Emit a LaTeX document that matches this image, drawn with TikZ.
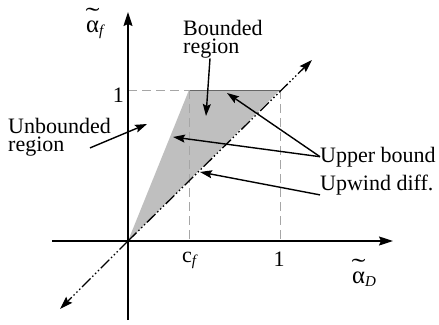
\documentclass[tikz,border=0pt]{standalone}
\usepackage{fontspec}
\setmainfont{Liberation Serif}
\usetikzlibrary{arrows.meta}
\newcommand{\talpha}{\ooalign{\scalebox{1.12}{α}\cr\hidewidth\raisebox{0.36em}{\scalebox{1.9}[1.1]{\char"02DC}}\hidewidth\cr}}
\newcommand{\subit}[1]{\raisebox{-3pt}{\fontsize{15}{15}\selectfont\itshape #1}}
\begin{document}
\begin{tikzpicture}[x=1pt,y=-1pt,
  lbl/.style={font=\fontsize{22}{18}\selectfont, inner sep=0pt},
  arr/.style={line width=1.4pt, -{Stealth[length=12pt,width=8pt,inset=2pt]}},
  axis/.style={line width=1.3pt, -{Stealth[length=14pt,width=9pt,inset=2pt]}},
  guide/.style={gray!70, line width=0.8pt, dash pattern=on 9pt off 5pt},
  diag/.style={line width=1.3pt, dash pattern=on 12pt off 2.5pt on 1.5pt off 2.5pt on 1.5pt off 2.5pt on 1.5pt off 2.5pt,
    -{Stealth[length=13pt,width=8.5pt,inset=2pt]}}
]
\useasboundingbox (0,0) rectangle (439,324);
\coordinate (O) at (128,241);
\coordinate (xl) at (52,241);
\coordinate (xr) at (393,241);
\coordinate (yb) at (128,320);
\coordinate (yt) at (128,12);
\coordinate (P) at (189,90);
\coordinate (Q) at (280,90);
\coordinate (Y1) at (128,90);
\coordinate (cfp) at (189,241);
\coordinate (X1) at (280,241);
\coordinate (dl) at (60,309);
\coordinate (dr) at (312,60);

\fill[gray!50] (O) -- (P) -- (Q) -- cycle;
\draw[gray!80!black, line width=1pt] (P) -- (Q);
\draw[guide] (Y1) -- (P);
\draw[guide] (P) -- (cfp);
\draw[guide] (Q) -- (X1);
\draw[axis] (xl) -- (xr);
\draw[axis] (yb) -- (yt);
\draw[diag] (O) -- (dr);
\draw[diag] (O) -- (dl);

\node[lbl, anchor=base west] (af) at (86,32) {\talpha\subit{f}};
\node[lbl, anchor=base east] (oney) at (124,102) {1};
\node[lbl, anchor=base west] (cfl) at (182,262) {c\subit{f}};
\node[lbl, anchor=base] (onex) at (279,266) {1};
\node[lbl, anchor=base west] (aD) at (352,283) {\talpha\subit{D}};
\node[lbl, anchor=north west, align=left] (bnd) at (183,20) {Bounded\\region};
\node[lbl, anchor=north west, align=left] (unb) at (8,118.5) {Unbounded\\region};
\node[lbl, anchor=base west] (ub) at (320,162) {Upper bound};
\node[lbl, anchor=base west] (uw) at (320,190) {Upwind diff.};

\coordinate (tb) at (206,116);
\coordinate (tu) at (147,124);
\coordinate (tub1) at (227,93);
\coordinate (tub2) at (173,137);
\coordinate (tuw) at (200,172);

\draw[arr] ([xshift=27pt]bnd.south west) -- (tb);
\draw[arr] ([xshift=82pt,yshift=9pt]unb.south west) -- (tu);
\draw[arr] (ub.west) -- (tub1);
\draw[arr] (ub.west) -- (tub2);
\draw[arr] (uw.south west) -- (tuw);
\end{tikzpicture}
\end{document}
